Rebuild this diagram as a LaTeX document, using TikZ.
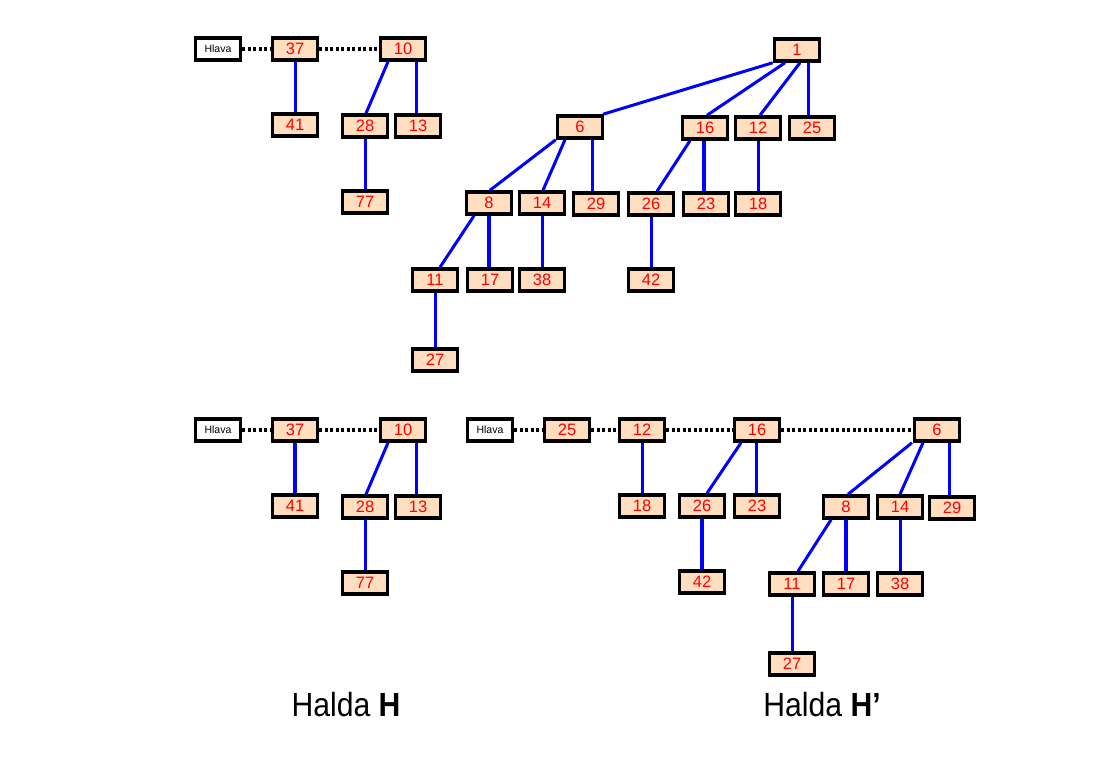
\documentclass[tikz,border=0pt]{standalone}
\usepackage{fontspec}
\setmainfont{Liberation Sans}
\newfontfamily\captionfont[FakeStretch=0.9]{Liberation Sans}
\usepackage{tikz}
\definecolor{keyfill}{RGB}{255,222,192}

\begin{document}
\begin{tikzpicture}[x=1pt,y=-1pt,
    heapkey/.style={draw,line width=3.5pt,fill=keyfill,text=red,minimum width=45pt,minimum height=22pt,inner sep=0pt,font=\fontsize{16.5}{16.5}\selectfont},
    headbox/.style={draw,line width=3.5pt,fill=white,minimum width=45pt,minimum height=22pt,inner sep=0pt,font=\fontsize{10.5}{10.5}\selectfont},
    child/.style={blue,line width=3pt},
    boldchild/.style={blue,line width=4.5pt},
    rootlink/.style={line width=3.2pt,dash pattern=on 3pt off 2.5pt}]
      \useasboundingbox (0,0) rectangle (1116,762);
      % heap H, before
      \node [headbox] (aHlava) at (218,49) {Hlava};
      \node [heapkey] (a37) at (295,49) {37};
      \node [heapkey] (a10) at (403,49) {10};
      \node [heapkey] (a41) at (295,125) {41};
      \node [heapkey] (a28) at (365,126) {28};
      \node [heapkey] (a13) at (418,126) {13};
      \node [heapkey] (a77) at (365,202) {77};
      \draw [rootlink] (aHlava) -- (a37);
      \draw [rootlink] (a37) -- (a10);
      \draw [child] (a37) -- (a41);
      \draw [child] ([xshift=-15pt]a10.south) -- ([xshift=1pt]a28.north);
      \draw [child] ([xshift=13pt]a10.south) -- ([xshift=-2pt]a13.north);
      \draw [child] (a28) -- (a77);
      % heap H', before
      \node [heapkey] (b1) at (797,50) {1};
      \node [heapkey] (b6) at (580,127) {6};
      \node [heapkey] (b16) at (705,128) {16};
      \node [heapkey] (b12) at (758,128) {12};
      \node [heapkey] (b25) at (812,128) {25};
      \node [heapkey] (b8) at (489,203) {8};
      \node [heapkey] (b14) at (542,203) {14};
      \node [heapkey] (b29) at (596,204) {29};
      \node [heapkey] (b26) at (651,204) {26};
      \node [heapkey] (b23) at (706,204) {23};
      \node [heapkey] (b18) at (758,204) {18};
      \node [heapkey] (b11) at (435,280) {11};
      \node [heapkey] (b17) at (490,280) {17};
      \node [heapkey] (b38) at (542,280) {38};
      \node [heapkey] (b42) at (651,280) {42};
      \node [heapkey] (b27) at (435,360) {27};
      \draw [child] (b1.south west) -- ([xshift=23pt]b6.north);
      \draw [child] ([xshift=-12pt]b1.south) -- ([xshift=2pt]b16.north);
      \draw [child] ([xshift=3pt]b1.south) -- ([xshift=2pt]b12.north);
      \draw [child] ([xshift=11pt]b1.south) -- ([xshift=-4pt]b25.north);
      \draw [child] (b6.south west) -- ([xshift=1pt]b8.north);
      \draw [child] ([xshift=-15pt]b6.south) -- ([xshift=1pt]b14.north);
      \draw [child] ([xshift=12pt]b6.south) -- ([xshift=-4pt]b29.north);
      \draw [child] ([xshift=-15pt]b16.south) -- ([xshift=6pt]b26.north);
      \draw [boldchild] ([xshift=-1pt]b16.south) -- ([xshift=-2pt]b23.north);
      \draw [child] (b12) -- (b18);
      \draw [child] ([xshift=-15pt]b8.south) -- ([xshift=5pt]b11.north);
      \draw [boldchild] (b8.south) -- ([xshift=-1pt]b17.north);
      \draw [child] (b14) -- (b38);
      \draw [child] (b26) -- (b42);
      \draw [child] (b11) -- (b27);
      % heap H, after
      \node [headbox] (cHlava) at (218,430) {Hlava};
      \node [heapkey] (c37) at (295,430) {37};
      \node [heapkey] (c10) at (403,430) {10};
      \node [heapkey] (c41) at (295,506) {41};
      \node [heapkey] (c28) at (365,507) {28};
      \node [heapkey] (c13) at (418,507) {13};
      \node [heapkey] (c77) at (365,583) {77};
      \draw [rootlink] (cHlava) -- (c37);
      \draw [rootlink] (c37) -- (c10);
      \draw [boldchild] (c37) -- (c41);
      \draw [child] ([xshift=-15pt]c10.south) -- ([xshift=1pt]c28.north);
      \draw [child] ([xshift=13pt]c10.south) -- ([xshift=-2pt]c13.north);
      \draw [child] (c28) -- (c77);
      % heap H', after
      \node [headbox] (dHlava) at (490,430) {Hlava};
      \node [heapkey] (d25) at (567,430) {25};
      \node [heapkey] (d12) at (642,430) {12};
      \node [heapkey] (d16) at (757,430) {16};
      \node [heapkey] (d6) at (937,430) {6};
      \node [heapkey] (d18) at (642,506) {18};
      \node [heapkey] (d26) at (702,506) {26};
      \node [heapkey] (d23) at (757,506) {23};
      \node [heapkey] (d8) at (846,507) {8};
      \node [heapkey] (d14) at (900,507) {14};
      \node [heapkey] (d29) at (952,508) {29};
      \node [heapkey] (d42) at (702,582) {42};
      \node [heapkey] (d11) at (792,584) {11};
      \node [heapkey] (d17) at (846,584) {17};
      \node [heapkey] (d38) at (900,584) {38};
      \node [heapkey] (d27) at (792,664) {27};
      \draw [rootlink] (dHlava) -- (d25);
      \draw [rootlink] (d25) -- (d12);
      \draw [rootlink] (d12) -- (d16);
      \draw [rootlink] (d16) -- (d6);
      \draw [child] (d12) -- (d18);
      \draw [child] ([xshift=-16pt]d16.south) -- ([xshift=5pt]d26.north);
      \draw [child] ([xshift=-1pt]d16.south) -- ([xshift=-1pt]d23.north);
      \draw [child] ([xshift=-25pt]d6.south) -- ([xshift=2pt]d8.north);
      \draw [child] ([xshift=-14pt]d6.south) -- (d14.north);
      \draw [child] ([xshift=12pt]d6.south) -- ([xshift=-3pt]d29.north);
      \draw [boldchild] (d26) -- (d42);
      \draw [child] ([xshift=-15pt]d8.south) -- ([xshift=6pt]d11.north);
      \draw [boldchild] (d8) -- (d17);
      \draw [child] (d14) -- (d38);
      \draw [child] (d11) -- (d27);
      \node [font=\captionfont\fontsize{33.5}{33.5}\selectfont] (capH) at (346,705) {Halda \textbf{H}};
      \node [font=\captionfont\fontsize{33.5}{33.5}\selectfont] (capHH) at (822,705) {Halda \textbf{H’}};
    \end{tikzpicture}
\end{document}
